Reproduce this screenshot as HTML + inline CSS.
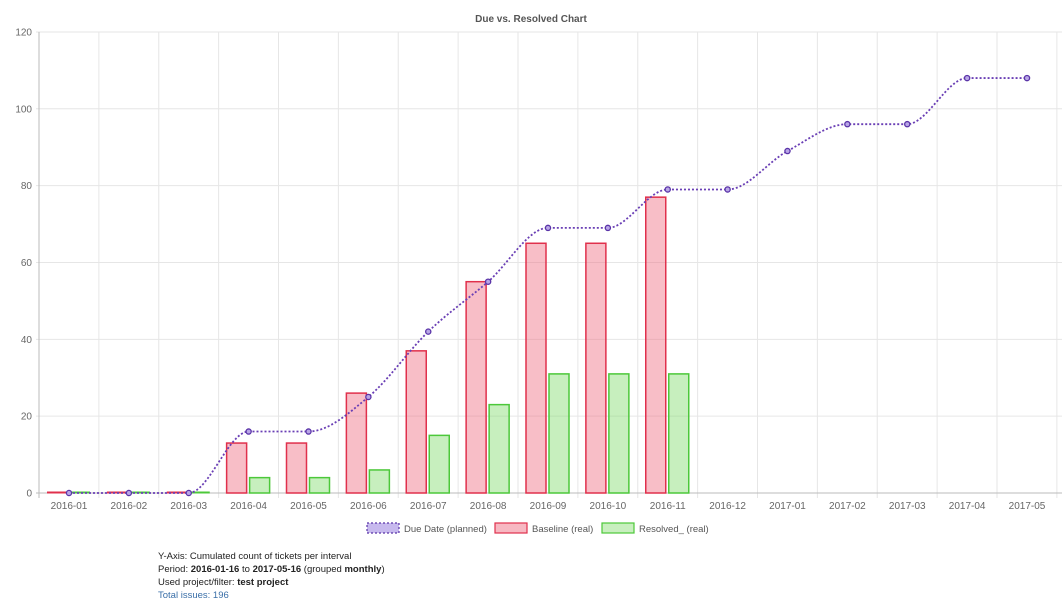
<!DOCTYPE html>
<html><head><meta charset="utf-8"><style>
body{margin:0;background:#fff;font-family:"Liberation Sans",Arial,sans-serif;}
svg text{font-family:"Liberation Sans",Arial,sans-serif;}
.info{position:absolute;left:158px;top:550px;font-size:9.5px;line-height:13px;color:#222;}
</style></head><body>
<svg id="c" width="1062" height="611" style="position:absolute;left:0;top:0"></svg>
<div class="info">Y-Axis: Cumulated count of tickets per interval<br>Period: <b>2016-01-16</b> to <b>2017-05-16</b> (grouped <b>monthly</b>)<br>Used project/filter: <b>test project</b><br><span style="color:#3a6fa8">Total issues: 196</span></div>
<script>
var s='';
function Y(v){return 493-v*3.842;}
function X(i){return 69+59.875*i;}
s+='<text x="531" y="22" text-anchor="middle" font-size="10" font-weight="bold" fill="#555">Due vs. Resolved Chart</text>';
for(var v=0;v<=120;v+=20){var y=Y(v);s+='<line x1="36" x2="1062" y1="'+y+'" y2="'+y+'" stroke="#e6e6e6"/>';s+='<text x="32" y="'+(y+3.5)+'" text-anchor="end" font-size="10" fill="#666">'+v+'</text>';}
for(var i=0;i<=17;i++){var x=39+59.875*i;s+='<line x1="'+x+'" x2="'+x+'" y1="32" y2="498" stroke="'+(i==0?'#bbb':'#e6e6e6')+'"/>';}
s+='<line x1="36" x2="1062" y1="493" y2="493" stroke="#bbb"/>';
var labs=['2016-01','2016-02','2016-03','2016-04','2016-05','2016-06','2016-07','2016-08','2016-09','2016-10','2016-11','2016-12','2017-01','2017-02','2017-03','2017-04','2017-05'];
labs.forEach(function(l,i){s+='<text x="'+X(i)+'" y="509" text-anchor="middle" font-size="10" fill="#666">'+l+'</text>';});
var red=[0,0,0,13,13,26,37,55,65,65,77],gr=[0,0,0,4,4,6,15,23,31,31,31];
red.forEach(function(v,i){var x=X(i)-22;if(v==0){s+='<line x1="'+x+'" x2="'+(x+20)+'" y1="492.5" y2="492.5" stroke="#e0304c" stroke-width="2"/>';return;}s+='<rect x="'+x+'" y="'+Y(v)+'" width="20" height="'+(v*3.842)+'" fill="rgba(240,110,130,0.45)" stroke="#e0304c" stroke-width="1.5"/>';});
gr.forEach(function(v,i){var x=X(i)+1;if(v==0){s+='<line x1="'+x+'" x2="'+(x+20)+'" y1="492.5" y2="492.5" stroke="#4cc83a" stroke-width="2"/>';return;}s+='<rect x="'+x+'" y="'+Y(v)+'" width="20" height="'+(v*3.842)+'" fill="rgba(130,220,110,0.45)" stroke="#4cc83a" stroke-width="1.5"/>';});
var d=[0,0,0,16,16,25,42,55,69,69,79,79,89,96,96,108,108];
var n=d.length,P=d.map(function(v,i){return [X(i),Y(v)];});
var dl=[],m=[];for(var i=0;i<n-1;i++)dl.push((P[i+1][1]-P[i][1])/(P[i+1][0]-P[i][0]));
for(var i=0;i<n;i++){if(i==0)m.push(dl[0]);else if(i==n-1)m.push(dl[n-2]);else if(dl[i-1]*dl[i]<=0)m.push(0);else m.push((dl[i-1]+dl[i])/2);}
for(var i=0;i<n-1;i++){if(dl[i]==0){m[i]=0;m[i+1]=0;}}
var p='M'+P[0][0]+','+P[0][1];
for(var i=0;i<n-1;i++){var h=(P[i+1][0]-P[i][0])/3;p+=' C'+(P[i][0]+h)+','+(P[i][1]+m[i]*h)+' '+(P[i+1][0]-h)+','+(P[i+1][1]-m[i+1]*h)+' '+P[i+1][0]+','+P[i+1][1];}
s+='<path d="'+p+'" fill="none" stroke="#6a3fb5" stroke-width="1.8" stroke-dasharray="2,2"/>';
P.forEach(function(q){s+='<circle cx="'+q[0]+'" cy="'+q[1]+'" r="2.6" fill="#b9a6e6" stroke="#5a34a8" stroke-width="1.3"/>';});
s+='<rect x="367" y="523" width="32" height="10" fill="#c7b9ee" stroke="#5a34a8" stroke-dasharray="2,2" stroke-width="1.2"/><text x="404" y="532" font-size="9.5" fill="#555">Due Date (planned)</text>';
s+='<rect x="495" y="523" width="32" height="10" fill="#f7b8c2" stroke="#e0304c" stroke-width="1.2"/><text x="532" y="532" font-size="9.5" fill="#555">Baseline (real)</text>';
s+='<rect x="602" y="523" width="32" height="10" fill="#c8efbf" stroke="#4cc83a" stroke-width="1.2"/><text x="639" y="532" font-size="9.5" fill="#555">Resolved_ (real)</text>';
document.getElementById('c').innerHTML=s;
</script>
</body></html>
